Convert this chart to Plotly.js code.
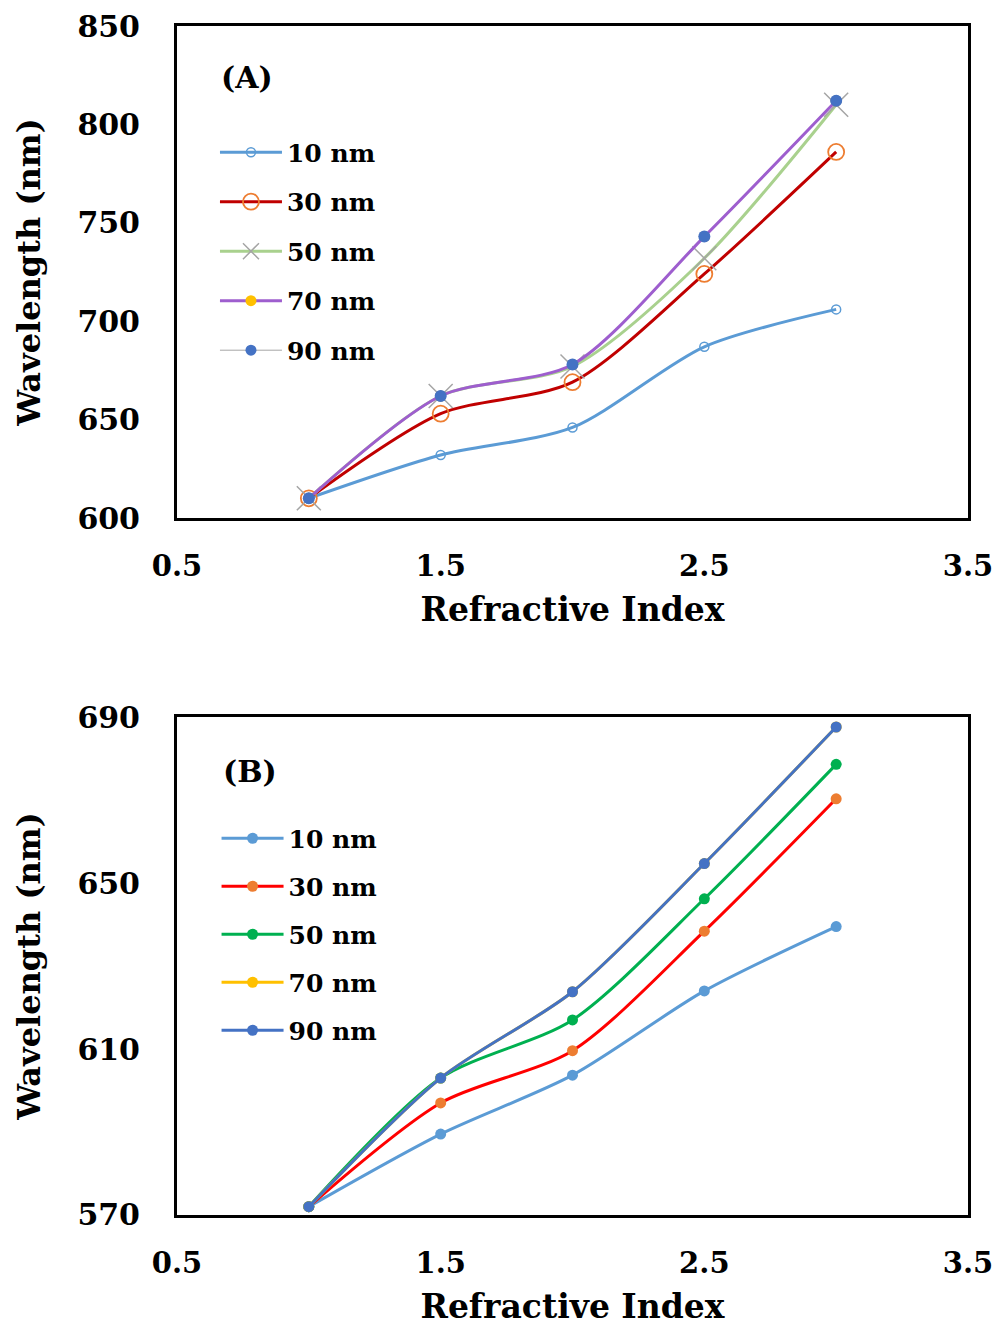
<!DOCTYPE html>
<html>
<head>
<meta charset="utf-8">
<script src="https://cdn.plot.ly/plotly-3.0.1.min.js"></script>
<style>html,body{margin:0;padding:0;background:#fff;}</style>
</head>
<body>
<div id="chart" style="width:998px;height:1332px;"></div>
<script>
// ---- data ----
const refractiveIndex = [1, 1.5, 2, 2.5, 3];
const seriesNames = ['10 nm', '30 nm', '50 nm', '70 nm', '90 nm'];

// Panel (A)
const a10 = [610, 632, 646, 687, 706];
const a30 = [610, 653, 669, 724, 786];
const a50 = [610, 662, 677, 732, 810];
const a70 = [610, 662, 678, 743, 812];
const a90 = [610, 662, 678, 743, 812];

// Panel (B)
const b10 = [572, 589.5, 603.7, 624, 639.5];
const b30 = [572, 597, 609.6, 638.4, 670.3];
const b50 = [572, 603, 617, 646.2, 678.6];
const b70 = [572, 603, 623.8, 654.7, 687.6];
const b90 = [572, 603, 623.8, 654.7, 687.6];

const xTicks = [0.5, 1.5, 2.5, 3.5];
const yTicksA = [600, 650, 700, 750, 800, 850];
const yTicksB = [570, 610, 650, 690];

// ---- styling ----
const FONT = 'DejaVu Serif';
const txt = (s) => ({family: FONT, size: s, color: '#000', weight: 'bold'});

function tr(name, y, xa, ya, lg, rank, line, marker, extra) {
  return Object.assign({
    type: 'scatter', mode: 'lines+markers', x: refractiveIndex, y: y,
    xaxis: xa, yaxis: ya, name: name, legend: lg, legendgroup: lg + name,
    legendrank: rank, line: Object.assign({shape: 'spline', smoothing: 0.8}, line),
    marker: marker, cliponaxis: false
  }, extra || {});
}

const data = [
  // Panel A
  tr(seriesNames[0], a10, 'x', 'y', 'legend', 1, {color: '#5B9BD5', width: 3},
     {symbol: 'circle-open', size: 9, color: '#5B9BD5', line: {width: 1.5}}),
  tr(seriesNames[1], a30, 'x', 'y', 'legend', 2, {color: '#C00000', width: 3},
     {symbol: 'circle-open', size: 16, color: '#ED7D31', line: {width: 1.8}}),
  tr(seriesNames[2], a50, 'x', 'y', 'legend', 3, {color: '#A9D18E', width: 3},
     {symbol: 'x-thin-open', size: 24, color: '#A5A5A5', line: {width: 1.5, color: '#A5A5A5'}}),
  tr(seriesNames[4], a90, 'x', 'y', 'legend', 5, {color: '#A5A5A5', width: 1},
     {symbol: 'circle', size: 11, color: '#4472C4'}),
  tr(seriesNames[3], a70, 'x', 'y', 'legend', 4, {color: '#9E5ECE', width: 3},
     {symbol: 'circle', size: 11, color: '#FFC000'}),
  tr(seriesNames[4], a90, 'x', 'y', 'legend', 6, {color: '#A5A5A5', width: 1},
     {symbol: 'circle', size: 12, color: '#4472C4'}, {mode: 'markers', showlegend: false}),
  // Panel B
  tr(seriesNames[0], b10, 'x2', 'y2', 'legend2', 1, {color: '#5B9BD5', width: 3},
     {symbol: 'circle', size: 11, color: '#5B9BD5'}),
  tr(seriesNames[1], b30, 'x2', 'y2', 'legend2', 2, {color: '#FF0000', width: 3},
     {symbol: 'circle', size: 11, color: '#ED7D31'}),
  tr(seriesNames[2], b50, 'x2', 'y2', 'legend2', 3, {color: '#00B050', width: 3},
     {symbol: 'circle', size: 11, color: '#00B050'}),
  tr(seriesNames[3], b70, 'x2', 'y2', 'legend2', 4, {color: '#FFC000', width: 3},
     {symbol: 'circle', size: 11, color: '#FFC000'}),
  tr(seriesNames[4], b90, 'x2', 'y2', 'legend2', 5, {color: '#4472C4', width: 3},
     {symbol: 'circle', size: 11, color: '#4472C4'})
];

function xAxis(anchor) {
  return {
    anchor: anchor, domain: [0, 1], range: [0.5, 3.5], tickvals: xTicks,
    ticktext: xTicks.map(v => v.toFixed(1)), ticks: '', showgrid: false, zeroline: false,
    showline: true, mirror: true, linecolor: '#000', linewidth: 3,
    tickfont: txt(29), ticklabelstandoff: 20,
    title: {text: 'Refractive Index', font: txt(33), standoff: 17}
  };
}
function yAxis(anchor, domain, range, ticks) {
  return {
    anchor: anchor, domain: domain, range: range, tickvals: ticks, ticks: '',
    showgrid: false, zeroline: false, showline: true, mirror: true,
    linecolor: '#000', linewidth: 3, tickfont: txt(30), ticklabelstandoff: 28,
    title: {text: 'Wavelength (nm)', font: txt(32), standoff: 28}
  };
}

const legendBase = {
  bgcolor: 'rgba(0,0,0,0)', font: txt(25), itemwidth: 62,
  traceorder: 'grouped', xanchor: 'left', yanchor: 'top', itemclick: false
};

const layout = {
  width: 998, height: 1332,
  margin: {l: 177, r: 30, t: 26, b: 117},
  paper_bgcolor: '#fff', plot_bgcolor: '#fff',
  showlegend: true,
  xaxis: xAxis('y'),
  yaxis: yAxis('x', [0.5862, 1], [600, 850], yTicksA),
  xaxis2: xAxis('y2'),
  yaxis2: yAxis('x2', [0, 0.4188], [570, 690], yTicksB),
  legend: Object.assign({x: 0.048, y: 0.913, tracegroupgap: 14}, legendBase),
  legend2: Object.assign({x: 0.05, y: 0.336, tracegroupgap: 12.5}, legendBase),
  annotations: [
    {text: '(A)', xref: 'paper', yref: 'paper', x: 0.088, y: 0.957, xanchor: 'center', yanchor: 'middle', showarrow: false, font: txt(30)},
    {text: '(B)', xref: 'paper', yref: 'paper', x: 0.092, y: 0.3726, xanchor: 'center', yanchor: 'middle', showarrow: false, font: txt(30)}
  ]
};

Plotly.newPlot('chart', data, layout, {displayModeBar: false, staticPlot: true});
</script>
</body>
</html>
